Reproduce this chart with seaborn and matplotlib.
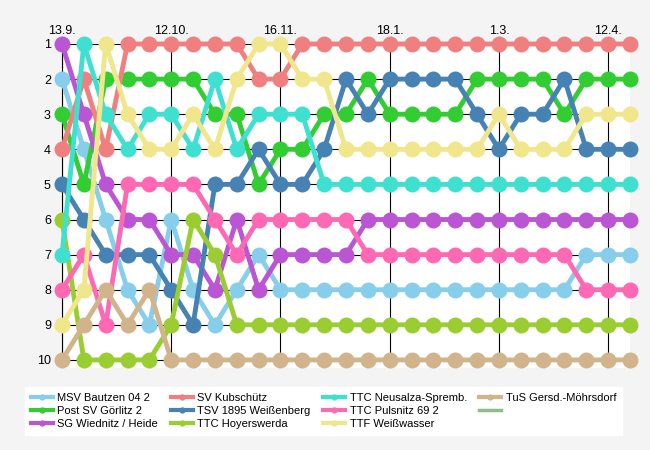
import pandas as pd
import matplotlib.pyplot as plt
from matplotlib.lines import Line2D
import seaborn as sns

# Daten: Tabellenplatz je Spieltag (27 Spieltage)
date_labels = ['13.9.', '12.10.', '16.11.', '18.1.', '1.3.', '12.4.']
date_rounds = [0, 5, 10, 15, 20, 25]

teams = ['MSV Bautzen 04 2', 'Post SV Görlitz 2', 'SG Wiednitz / Heide',
         'SV Kubschütz', 'TSV 1895 Weißenberg', 'TTC Hoyerswerda',
         'TTC Neusalza-Spremb.', 'TTC Pulsnitz 69 2', 'TTF Weißwasser',
         'TuS Gersd.-Möhrsdorf']

colors = ['#87ceeb', '#32cd32', '#ba55d3', '#f08080', '#4682b4',
          '#9acd32', '#40e0d0', '#ff69b4', '#f0e68c', '#d2b48c']

msv_bautzen = [2, 4, 6, 8, 9, 6, 8, 9, 8, 7, 8, 8, 8, 8, 8, 8, 8, 8, 8, 8, 8, 8, 8, 8, 7, 7, 7]
post_sv = [3, 5, 2, 2, 2, 2, 2, 3, 3, 5, 4, 4, 3, 3, 2, 3, 3, 3, 3, 2, 2, 2, 2, 3, 2, 2, 2]
sg_wiednitz = [1, 3, 5, 6, 6, 7, 7, 8, 6, 8, 7, 7, 7, 7, 6, 6, 6, 6, 6, 6, 6, 6, 6, 6, 6, 6, 6]
sv_kubschuetz = [4, 2, 4, 1, 1, 1, 1, 1, 1, 2, 2, 1, 1, 1, 1, 1, 1, 1, 1, 1, 1, 1, 1, 1, 1, 1, 1]
tsv_weissenberg = [5, 6, 7, 7, 7, 8, 9, 5, 5, 4, 5, 5, 4, 2, 3, 2, 2, 2, 2, 3, 4, 3, 3, 2, 4, 4, 4]
ttc_hoyerswerda = [6, 10, 10, 10, 10, 9, 6, 7, 9, 9, 9, 9, 9, 9, 9, 9, 9, 9, 9, 9, 9, 9, 9, 9, 9, 9, 9]
ttc_neusalza = [7, 1, 3, 4, 3, 3, 4, 2, 4, 3, 3, 3, 5, 5, 5, 5, 5, 5, 5, 5, 5, 5, 5, 5, 5, 5, 5]
ttc_pulsnitz = [8, 7, 9, 5, 5, 5, 5, 6, 7, 6, 6, 6, 6, 6, 7, 7, 7, 7, 7, 7, 7, 7, 7, 7, 8, 8, 8]
ttf_weisswasser = [9, 8, 1, 3, 4, 4, 3, 4, 2, 1, 1, 2, 2, 4, 4, 4, 4, 4, 4, 4, 3, 4, 4, 4, 3, 3, 3]
tus_gersdorf = [10, 9, 8, 9, 8, 10, 10, 10, 10, 10, 10, 10, 10, 10, 10, 10, 10, 10, 10, 10, 10, 10, 10, 10, 10, 10, 10]

ranks = [msv_bautzen, post_sv, sg_wiednitz, sv_kubschuetz, tsv_weissenberg,
         ttc_hoyerswerda, ttc_neusalza, ttc_pulsnitz, ttf_weisswasser, tus_gersdorf]

rows = []
for team, r in zip(teams, ranks):
    for i, v in enumerate(r):
        rows.append({'Spieltag': i, 'Platz': v, 'Team': team})
df = pd.DataFrame(rows)

plt.rcParams['font.family'] = ['Liberation Sans', 'DejaVu Sans']
bg = '#f4f4f4'

fig = plt.figure(figsize=(6.5, 4.5), dpi=100, facecolor=bg)
ax = fig.add_axes([62 / 650, 1 - 368 / 450, (630 - 62) / 650, (368 - 44) / 450])

sns.lineplot(data=df, x='Spieltag', y='Platz', hue='Team', hue_order=teams,
             palette=dict(zip(teams, colors)), marker='o', markersize=11.5,
             markeredgewidth=0, linewidth=3.5, legend=False, ax=ax,
             clip_on=False, zorder=3)

ax.set_xlim(0, 26)
ax.set_ylim(10.23, 1)
ax.xaxis.tick_top()
ax.set_xticks(date_rounds)
ax.set_xticklabels(date_labels, fontsize=9)
ax.set_yticks(range(1, 11))
ax.set_yticklabels([str(i) for i in range(1, 11)], fontsize=9)
ax.tick_params(length=4, width=0.8, color='black')
ax.tick_params(axis='x', pad=1)
ax.tick_params(axis='y', pad=4)
ax.set_xlabel('')
ax.set_ylabel('')
ax.grid(True, color='black', linewidth=0.8)
ax.set_axisbelow(True)
for s in ['right', 'bottom', 'top']:
    ax.spines[s].set_visible(False)
ax.spines['left'].set_color('black')
ax.spines['left'].set_bounds(1, 10)

handles = [Line2D([], [], color=c, linewidth=3, marker='o', markersize=3.5)
           for c in colors]
labels = list(teams)
handles.append(Line2D([], [], color='#8fbc8f', linewidth=2.5))
labels.append('')

leg = fig.legend(handles, labels, ncol=4, loc='upper left', mode='expand',
                 bbox_to_anchor=(19 / 650, 1 - 381 / 450, 609 / 650, 0),
                 fontsize=8, frameon=True, fancybox=False, facecolor='white',
                 edgecolor='white', framealpha=1, labelspacing=0.3,
                 handlelength=2.0, handletextpad=0.4, columnspacing=0.8,
                 borderpad=0.55)

fig.savefig('out.png', dpi=100, facecolor=bg)
